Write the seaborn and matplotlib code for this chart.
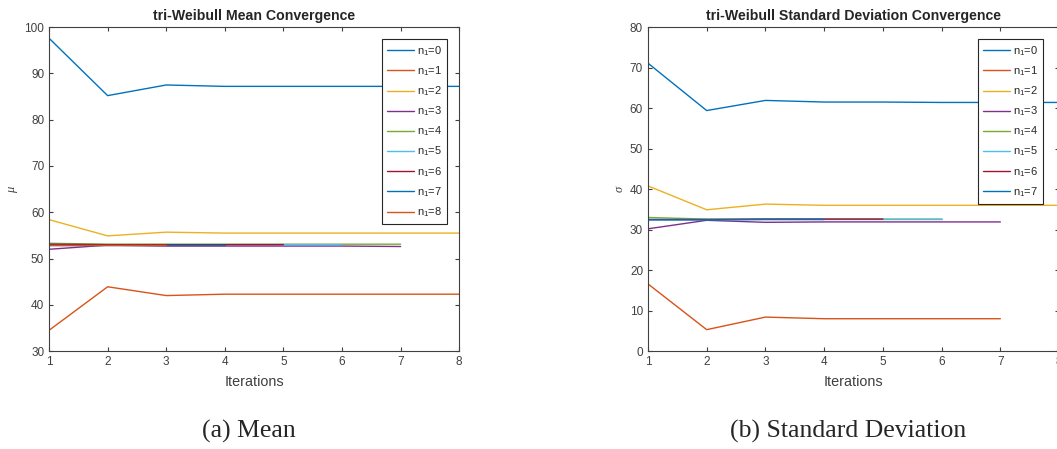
import pandas as pd
import matplotlib.pyplot as plt
import seaborn as sns

sns.set_style("ticks")
plt.rcParams['font.family'] = ['Liberation Sans', 'DejaVu Sans']
plt.rcParams['mathtext.fontset'] = 'custom'
plt.rcParams['mathtext.rm'] = 'Liberation Sans'
plt.rcParams['mathtext.it'] = 'Liberation Serif:italic'

# MATLAB default colour order
matlab_colors = ["#0072BD", "#D95319", "#EDB120", "#7E2F8E",
                 "#77AC30", "#4DBEEE", "#A2142F"]

# mean convergence, one list per n1
mu_0 = [97.6, 85.2, 87.5, 87.2, 87.2, 87.2, 87.2, 87.2]
mu_1 = [34.5, 43.9, 42.0, 42.3, 42.3, 42.3, 42.3, 42.3]
mu_2 = [58.4, 54.9, 55.7, 55.5, 55.5, 55.5, 55.5, 55.5]
mu_3 = [52.0, 52.9, 52.7, 52.7, 52.7, 52.7, 52.6]
mu_4 = [53.3, 53.1, 53.1, 53.1, 53.1, 53.1, 53.1]
mu_5 = [53.1, 53.0, 53.0, 53.0, 53.0, 53.0]
mu_6 = [53.1, 53.0, 53.0, 53.0, 53.0]
mu_7 = [53.0, 53.0, 53.0, 53.0]
mu_8 = [53.0, 53.0, 53.0]
mean_series = [mu_0, mu_1, mu_2, mu_3, mu_4, mu_5, mu_6, mu_7, mu_8]

# standard deviation convergence
sd_0 = [71.1, 59.4, 61.9, 61.5, 61.5, 61.4, 61.4, 61.4]
sd_1 = [16.6, 5.3, 8.4, 8.0, 8.0, 8.0, 8.0]
sd_2 = [40.8, 34.9, 36.3, 36.0, 36.0, 36.0, 36.0, 36.0]
sd_3 = [30.2, 32.3, 31.8, 31.9, 31.9, 31.9, 31.9]
sd_4 = [33.0, 32.6, 32.6, 32.6, 32.6, 32.6]
sd_5 = [32.6, 32.6, 32.6, 32.6, 32.6, 32.6]
sd_6 = [32.5, 32.5, 32.6, 32.6, 32.6]
sd_7 = [32.4, 32.4, 32.5, 32.5]
sd_series = [sd_0, sd_1, sd_2, sd_3, sd_4, sd_5, sd_6, sd_7]


def draw(ax, series, title, ylabel, ylim, yticks, xmax, leg_anchor):
    for i, vals in enumerate(series):
        iters = list(range(1, len(vals) + 1))
        sns.lineplot(x=iters, y=vals, ax=ax, color=matlab_colors[i % 7],
                     linewidth=1.0, label="n$_1$=%d" % i)
    ax.set_xlim(1, xmax)
    ax.set_ylim(*ylim)
    ax.set_xticks(range(1, xmax + 1))
    ax.set_yticks(yticks)
    ax.set_title(title, fontsize=10.2, fontweight="bold", pad=5)
    ax.set_xlabel("Iterations", fontsize=10.4, color="#404040", labelpad=5)
    ax.set_ylabel(ylabel, fontsize=9, color="#404040", labelpad=3)
    ax.tick_params(direction="in", top=True, right=True, length=3,
                   labelsize=8.5, colors="#404040", labelcolor="#404040")
    for s in ax.spines.values():
        s.set_color("#404040")
        s.set_linewidth(0.8)
    leg = ax.legend(loc="upper right", bbox_to_anchor=leg_anchor, fontsize=8,
                    frameon=True, fancybox=False, framealpha=1,
                    edgecolor="#262626", handlelength=2.4, labelspacing=0.6,
                    borderpad=0.45, handletextpad=0.3, borderaxespad=0)
    leg.get_frame().set_linewidth(0.8)


fig = plt.figure(figsize=(10.57, 4.49), dpi=100)
ax1 = fig.add_axes([0.0464, 0.218, 0.388, 0.7216])
ax2 = fig.add_axes([0.613, 0.218, 0.389, 0.7216])

draw(ax1, mean_series, "tri-Weibull Mean Convergence", r"$\mu$",
     (30, 100), range(30, 101, 10), 8, (0.971, 0.963))
draw(ax2, sd_series, "tri-Weibull Standard Deviation Convergence", r"$\sigma$",
     (0, 80), range(0, 81, 10), 8, (0.961, 0.963))

fig.text(0.235, 0.0245, "(a) Mean", fontsize=18.5, family="Liberation Serif",
         ha="center", va="baseline")
fig.text(0.802, 0.0245, "(b) Standard Deviation", fontsize=18.5,
         family="Liberation Serif", ha="center", va="baseline")

fig.savefig("out.png", dpi=100)
